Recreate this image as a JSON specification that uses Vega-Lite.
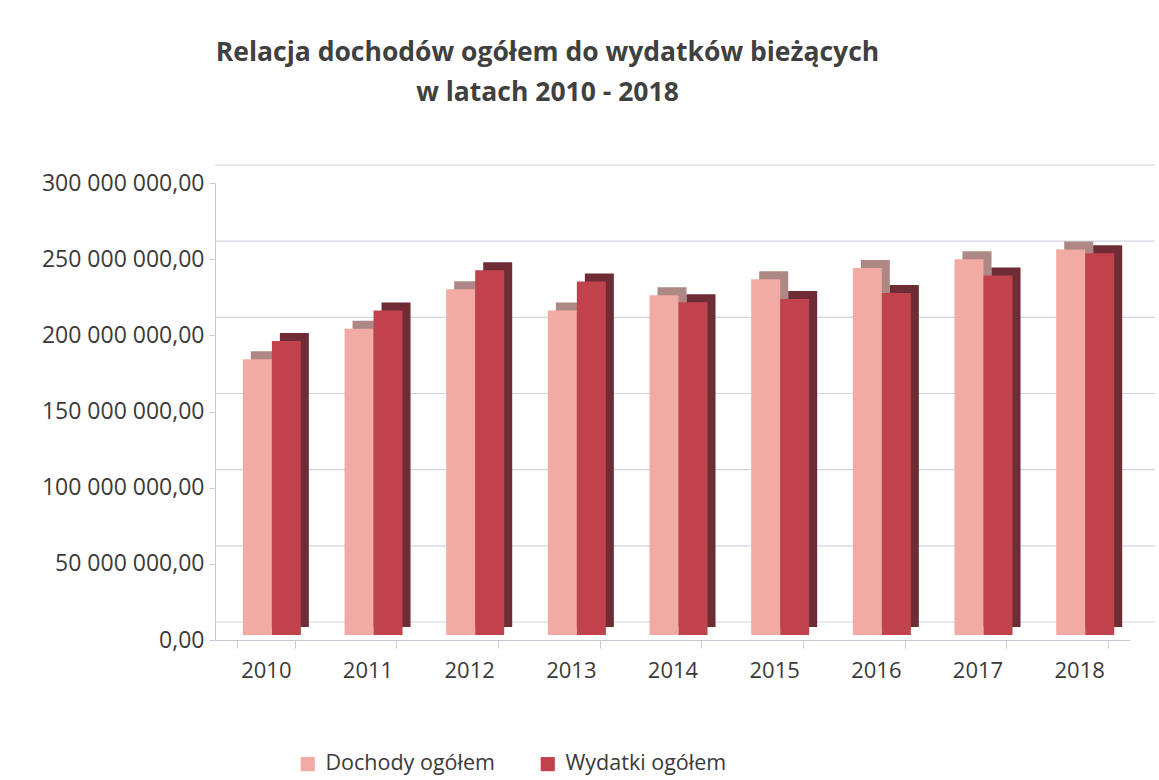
{
  "$schema": "https://vega.github.io/schema/vega-lite/v6.json",
  "width": 915,
  "height": 457,
  "autosize": "none",
  "padding": {"left": 215, "top": 183, "right": 29, "bottom": 140},
  "background": "white",
  "title": {
    "text": ["Relacja dochodów ogółem do wydatków bieżących", "w latach 2010 - 2018"],
    "font": "Open Sans",
    "fontSize": 26.5,
    "fontWeight": "bold",
    "color": "#404040",
    "anchor": "middle",
    "dx": -125,
    "offset": 58,
    "lineHeight": 40
  },
  "config": {
    "locale": {"number": {"decimal": ",", "thousands": " ", "grouping": [3], "currency": ["", ""]}},
    "view": {"stroke": null},
    "axis": {"labelFont": "Open Sans", "labelColor": "#3a3a3a", "domainColor": "#c8c8d4", "tickColor": "#c8c8d4", "grid": false},
    "axisY": {"labelFontSize": 23, "tickCount": 6, "format": ",.2f", "labelPadding": 5, "tickSize": 6},
    "axisX": {"labelAngle": 0, "labelFontSize": 22, "tickBand": "extent", "labelPadding": 12, "tickSize": 8},
    "legend": {"labelFont": "Open Sans", "labelFontSize": 21.5, "labelColor": "#3a3a3a", "labelLimit": 400, "symbolType": "square", "symbolSize": 200, "symbolStrokeWidth": 0, "orient": "none", "legendX": 82, "legendY": 570, "direction": "horizontal", "columnPadding": 42, "labelOffset": 7, "title": null}
  },
  "datasets": {
    "bars": [
      {"rok": "2010", "seria": "Dochody ogółem", "wartosc": 181000000},
      {"rok": "2010", "seria": "Wydatki ogółem", "wartosc": 193000000},
      {"rok": "2011", "seria": "Dochody ogółem", "wartosc": 201000000},
      {"rok": "2011", "seria": "Wydatki ogółem", "wartosc": 213000000},
      {"rok": "2012", "seria": "Dochody ogółem", "wartosc": 227000000},
      {"rok": "2012", "seria": "Wydatki ogółem", "wartosc": 239500000},
      {"rok": "2013", "seria": "Dochody ogółem", "wartosc": 213000000},
      {"rok": "2013", "seria": "Wydatki ogółem", "wartosc": 232000000},
      {"rok": "2014", "seria": "Dochody ogółem", "wartosc": 223000000},
      {"rok": "2014", "seria": "Wydatki ogółem", "wartosc": 218500000},
      {"rok": "2015", "seria": "Dochody ogółem", "wartosc": 233500000},
      {"rok": "2015", "seria": "Wydatki ogółem", "wartosc": 220500000},
      {"rok": "2016", "seria": "Dochody ogółem", "wartosc": 241000000},
      {"rok": "2016", "seria": "Wydatki ogółem", "wartosc": 224500000},
      {"rok": "2017", "seria": "Dochody ogółem", "wartosc": 246700000},
      {"rok": "2017", "seria": "Wydatki ogółem", "wartosc": 236000000},
      {"rok": "2018", "seria": "Dochody ogółem", "wartosc": 253000000},
      {"rok": "2018", "seria": "Wydatki ogółem", "wartosc": 250600000}
    ],
    "grid": [
      {"g": 0}, {"g": 50000000}, {"g": 100000000}, {"g": 150000000},
      {"g": 200000000}, {"g": 250000000}, {"g": 300000000}
    ]
  },
  "layer": [
    {
      "data": {"name": "grid"},
      "mark": {"type": "rule", "color": "#d4d4e2", "strokeWidth": 1.2, "xOffset": 25, "x2Offset": 12, "yOffset": -18, "y2Offset": -18},
      "encoding": {
        "y": {"field": "g", "type": "quantitative", "title": null, "scale": {"domain": [0, 300000000]}}
      }
    },
    {
      "data": {"name": "bars"},
      "mark": {"type": "bar", "yOffset": -13, "y2Offset": -13},
      "encoding": {
        "x": {"field": "rok", "type": "nominal", "title": null, "scale": {"paddingInner": 0.43, "paddingOuter": 0.215}},
        "xOffset": {"field": "seria", "type": "nominal", "scale": {"range": [14, 72], "paddingInner": 0, "paddingOuter": 0}},
        "y": {"field": "wartosc", "type": "quantitative", "title": null, "scale": {"domain": [0, 300000000]}},
        "color": {"field": "seria", "type": "nominal", "legend": null, "scale": {"range": ["#ad8884", "#6e2d35"]}}
      }
    },
    {
      "data": {"name": "bars"},
      "mark": {"type": "bar", "yOffset": -5, "y2Offset": -5},
      "encoding": {
        "x": {"field": "rok", "type": "nominal", "title": null, "scale": {"paddingInner": 0.43, "paddingOuter": 0.215}},
        "xOffset": {"field": "seria", "type": "nominal", "scale": {"range": [6, 64], "paddingInner": 0, "paddingOuter": 0}},
        "y": {"field": "wartosc", "type": "quantitative", "title": null, "scale": {"domain": [0, 300000000]}},
        "color": {"field": "seria", "type": "nominal", "scale": {"range": ["#f2aaa4", "#c0424c"]}}
      }
    }
  ],
  "resolve": {"scale": {"color": "independent", "xOffset": "independent"}, "legend": {"color": "independent"}}
}
